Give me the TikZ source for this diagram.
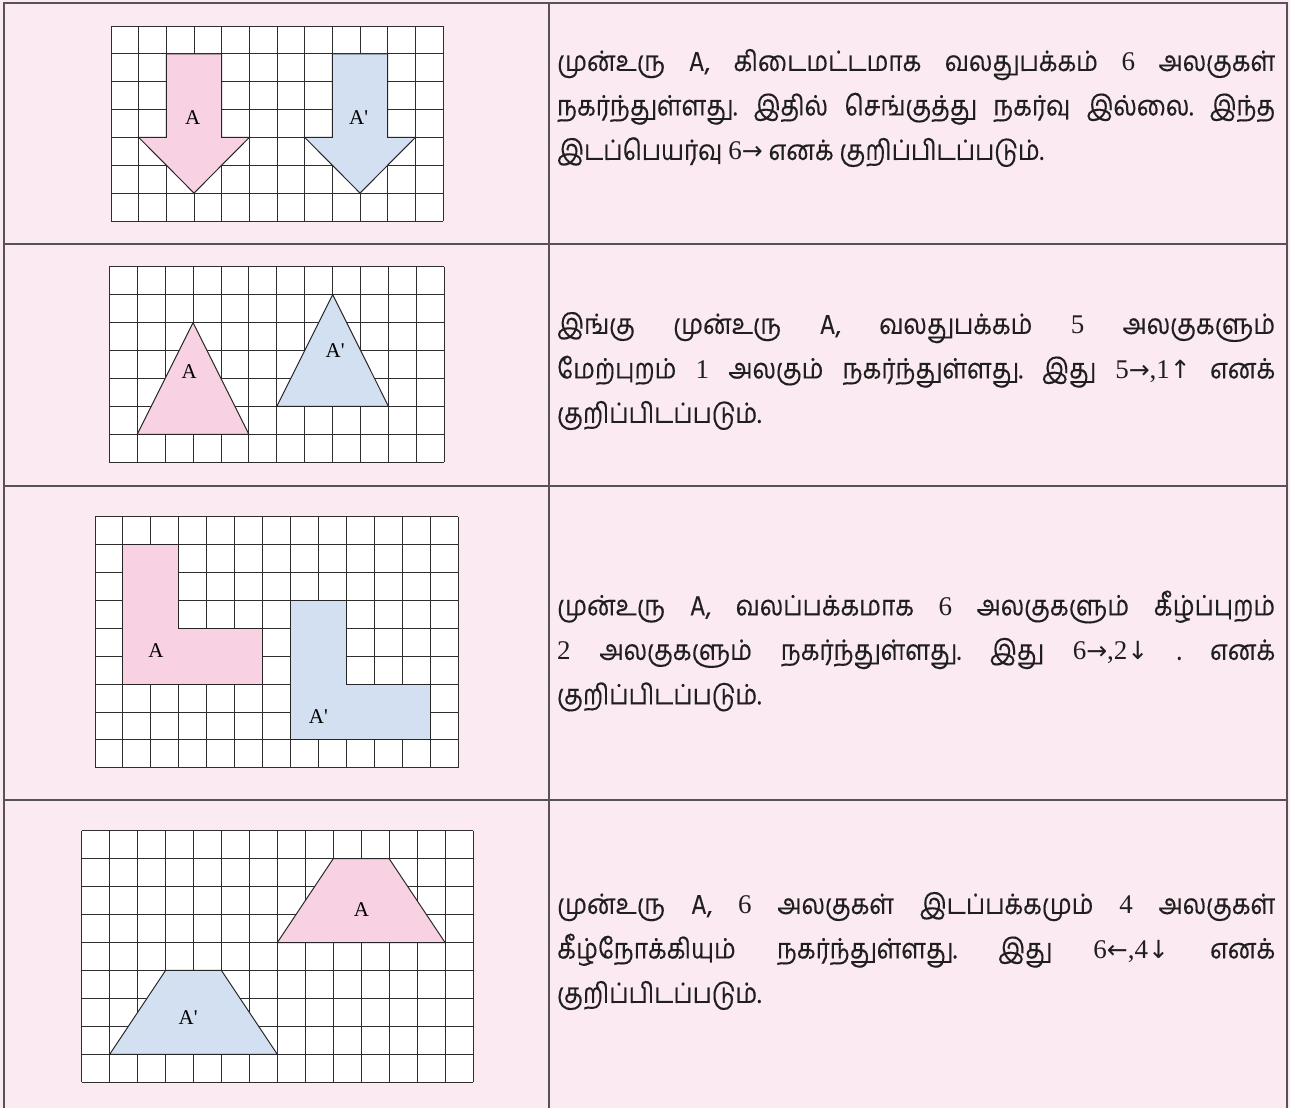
\documentclass[tikz,border=0pt]{standalone}
\usepackage{fontspec}
\newfontfamily\tamil[Script=Tamil,FakeStretch=0.87,FakeBold=0.3]{Hind Madurai}
\newfontfamily\lbl[Ligatures=TeXOff]{Liberation Serif}
\newfontfamily\serifnum{Liberation Serif}
\newfontfamily\arrowfont{DejaVu Sans}
\newcommand{\sn}[1]{{\serifnum\fontsize{27}{44.5}\selectfont #1}}
\newcommand{\arr}[1]{{\arrowfont\fontsize{25}{44.5}\selectfont #1}}
\definecolor{bgpink}{HTML}{FCEAF2}
\definecolor{shpink}{HTML}{F8D1E3}
\definecolor{shblue}{HTML}{D3E0F1}
\definecolor{tabline}{HTML}{57525A}
\definecolor{gridc}{HTML}{2E2E2E}
\tikzset{
  gridline/.style={draw=gridc,line width=0.9pt},
  shapeA/.style={fill=shpink,draw=black!85,line width=1pt,line join=miter},
  shapeB/.style={fill=shblue,draw=black!85,line width=1pt,line join=miter},
  tabrule/.style={draw=tabline,line width=2pt},
  lab/.style={font=\lbl\fontsize{21}{22}\selectfont,inner sep=0pt},
  txt/.style={anchor=west,text width=718pt,align=justify,inner sep=0pt,
    font=\tamil\fontsize{28}{44.5}\selectfont\frenchspacing,text=black!88}
}
\newcommand{\drawgrid}[2]{%
  \fill[white] (0,0) rectangle (#1,#2);
  \foreach \i in {0,...,#1} \draw[gridline] (\i,0) -- (\i,#2);
  \foreach \j in {0,...,#2} \draw[gridline] (0,\j) -- (#1,\j);
}
\begin{document}
\begin{tikzpicture}[x=1pt,y=-1pt]
\useasboundingbox (0,0) rectangle (1290,1108);
\fill[bgpink] (0,0) rectangle (1290,1108);
% table rules
\draw[tabrule] (4,1112) -- (4,3.3) -- (1287,3.3) -- (1287,1112);
\draw[tabrule] (4,243.7) -- (1287,243.7);
\draw[tabrule] (4,486) -- (1287,486);
\draw[tabrule] (4,799.7) -- (1287,799.7);
\draw[tabrule] (549,3.3) -- (549,1112);
% grid 1
\begin{scope}[shift={(111,26)},x=27.67pt,y=-27.85pt]
  \drawgrid{12}{7}
  \draw[shapeA] (2,1) -- (4,1) -- (4,4) -- (5,4) -- (3,6) -- (1,4) -- (2,4) -- cycle;
  \draw[shapeB] (8,1) -- (10,1) -- (10,4) -- (11,4) -- (9,6) -- (7,4) -- (8,4) -- cycle;
  \node[lab] (a1) at (2.95,3.3) {A};
  \node[lab] (b1) at (8.95,3.3) {A'};
\end{scope}
% grid 2
\begin{scope}[shift={(109.3,266.7)},x=27.92pt,y=-27.94pt]
  \drawgrid{12}{7}
  \draw[shapeA] (1,6) -- (5,6) -- (3,2) -- cycle;
  \draw[shapeB] (6,5) -- (10,5) -- (8,1) -- cycle;
  \node[lab] (a2) at (2.86,3.74) {A};
  \node[lab] (b2) at (8.09,2.99) {A'};
\end{scope}
% grid 3
\begin{scope}[shift={(95,516.7)},x=27.92pt,y=-27.9pt]
  \drawgrid{13}{9}
  \draw[shapeA] (1,1) -- (3,1) -- (3,4) -- (6,4) -- (6,6) -- (1,6) -- cycle;
  \draw[shapeB] (7,3) -- (9,3) -- (9,6) -- (12,6) -- (12,8) -- (7,8) -- cycle;
  \node[lab] (a3) at (2.18,4.81) {A};
  \node[lab] (b3) at (8.0,7.17) {A'};
\end{scope}
% grid 4
\begin{scope}[shift={(81.7,830.7)},x=27.95pt,y=-27.95pt]
  \drawgrid{14}{9}
  \draw[shapeA] (7,4) -- (9,1) -- (11,1) -- (13,4) -- cycle;
  \draw[shapeB] (1,8) -- (3,5) -- (5,5) -- (7,8) -- cycle;
  \node[lab] (a4) at (10.01,2.81) {A};
  \node[lab] (b4) at (3.81,6.67) {A'};
\end{scope}
% texts
\node[txt] (t1) at (557,108) {முன்உரு A, கிடைமட்டமாக வலதுபக்கம் \sn{6} அலகுகள்\linebreak நகர்ந்துள்ளது. இதில் செங்குத்து நகர்வு இல்லை. இந்த\linebreak இடப்பெயர்வு \sn{6}\arr{→} எனக் குறிப்பிடப்படும்.};
\node[txt] (t2) at (557,371) {இங்கு முன்உரு A, வலதுபக்கம் \sn{5} அலகுகளும்\linebreak மேற்புறம் \sn{1} அலகும் நகர்ந்துள்ளது. இது \sn{5}\arr{→}\sn{,1}\arr{↑} எனக்\linebreak குறிப்பிடப்படும்.};
\node[txt] (t3) at (557,651) {முன்உரு A, வலப்பக்கமாக \sn{6} அலகுகளும் கீழ்ப்புறம்\linebreak \sn{2} அலகுகளும் நகர்ந்துள்ளது. இது \sn{6}\arr{→}\sn{,2}\arr{↓} . எனக்\linebreak குறிப்பிடப்படும்.};
\node[txt] (t4) at (557,951) {முன்உரு A, \sn{6} அலகுகள் இடப்பக்கமும் \sn{4} அலகுகள்\linebreak கீழ்நோக்கியும் நகர்ந்துள்ளது. இது \sn{6}\arr{←}\sn{,4}\arr{↓} எனக்\linebreak குறிப்பிடப்படும்.};
\end{tikzpicture}
\end{document}
